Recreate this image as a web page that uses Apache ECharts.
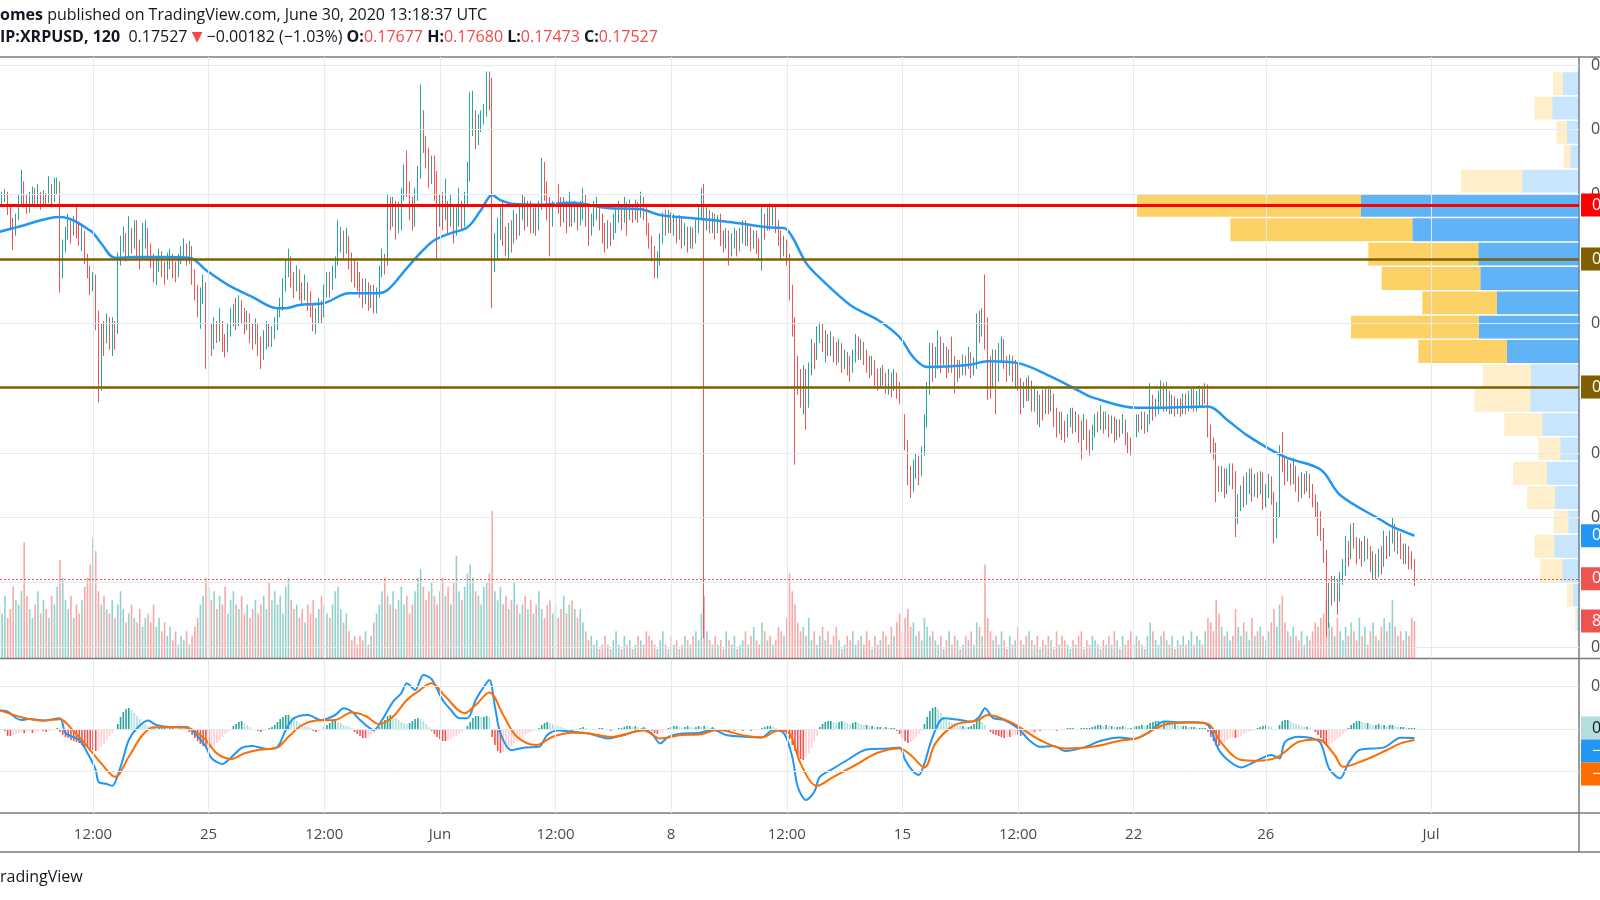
<!DOCTYPE html>
<html><head><meta charset="utf-8">
<script src="https://cdn.jsdelivr.net/npm/echarts@6/dist/echarts.min.js"></script>
<style>html,body{margin:0;padding:0;background:#fff;overflow:hidden}#c{width:1600px;height:900px}</style>
</head><body><div id="c"></div>
<script>
// ---------------- DATA ----------------
// 2-hour bars; x values are hours relative to May 21 12:00 UTC
const firstHour = -68;
const barHours = 2;
const firstOpen = 2040;           // prices in units of 0.0001
const closes = [
2044,2048,2050,2038,2030,2020,2032,2045,2058,2046,
2040,2048,2052,2044,2050,2042,2048,2045,2054,2046,
2055,2058,1998,2010,2020,2026,2022,2028,2024,2016,
2020,2002,1992,1980,1985,1955,1925,1945,1938,1950,
1940,1948,1945,1998,2010,2015,2005,2020,2012,2025,
2010,2002,2018,2020,2008,2000,1990,1996,2004,1994,
1986,1998,2002,1992,1988,1998,2006,2010,2000,2008,
1988,1975,1962,1972,1980,1925,1940,1935,1948,1942,
1950,1935,1932,1945,1955,1960,1952,1965,1958,1950,
1955,1945,1938,1948,1935,1928,1935,1945,1938,1942,
1950,1958,1965,1978,1990,2000,1985,1978,1988,1976,
1970,1980,1968,1962,1950,1956,1965,1958,1972,1985,
1978,1988,1996,2012,2020,2008,2016,2000,1995,1990,
1985,1978,1972,1980,1970,1975,1966,1972,1990,2000,
1995,2040,2030,2045,2025,2030,2048,2065,2055,2042,
2030,2048,2065,2105,2090,2080,2062,2072,2060,2035,
2045,2030,2040,2028,2035,2022,2032,2040,2028,2048,
2065,2102,2110,2095,2104,2110,2115,2130,2128,2010,
2012,2025,2030,2018,2010,2025,2018,2030,2022,2035,
2045,2030,2040,2028,2035,2025,2040,2070,2055,2040,
2030,2038,2050,2042,2035,2042,2030,2038,2032,2040,
2030,2038,2045,2035,2025,2030,2038,2040,2028,2022,
2015,2022,2018,2028,2035,2040,2030,2042,2036,2040,
2033,2040,2035,2045,2038,2025,2015,2005,1998,2000,
2015,2030,2025,2032,2026,2030,2022,2030,2015,2022,
2012,2020,2015,2025,2035,2045,2030,2035,2028,2032,
2025,2030,2018,2012,2020,2008,2015,2018,2010,2020,
2025,2016,2022,2014,2018,2012,2008,2030,2025,2035,
2030,2038,2028,2018,2010,2012,2002,1975,1950,1920,
1905,1895,1910,1892,1915,1930,1925,1940,1948,1935,
1940,1930,1938,1932,1925,1932,1920,1925,1918,1915,
1925,1935,1928,1935,1925,1920,1915,1918,1910,1905,
1912,1908,1902,1908,1900,1910,1900,1895,1878,1860,
1835,1822,1840,1842,1838,1850,1875,1898,1925,1918,
1925,1935,1920,1928,1918,1925,1920,1910,1918,1915,
1922,1918,1925,1915,1920,1950,1945,1955,1950,1918,
1905,1925,1910,1928,1935,1920,1915,1922,1912,1918,
1905,1892,1900,1898,1905,1890,1895,1880,1890,1885,
1895,1888,1895,1880,1872,1878,1870,1865,1875,1880,
1872,1878,1868,1865,1872,1860,1855,1868,1875,1872,
1880,1872,1878,1870,1875,1866,1872,1868,1874,1862,
1858,1855,1868,1875,1872,1878,1872,1876,1890,1880,
1885,1893,1898,1888,1895,1885,1890,1882,1888,1884,
1892,1886,1893,1896,1888,1894,1898,1893,1898,1868,
1858,1855,1832,1826,1835,1822,1832,1838,1830,1800,
1810,1820,1815,1825,1832,1822,1830,1825,1832,1815,
1822,1830,1818,1795,1805,1852,1842,1835,1840,1832,
1838,1828,1820,1830,1825,1832,1822,1815,1808,1795,
1790,1772,1722,1745,1740,1748,1738,1752,1760,1778,
1770,1790,1782,1772,1778,1770,1780,1775,1765,1768,
1760,1772,1765,1780,1776,1786,1792,1780,1784,1774,
1770,1776,1768,1767.7,1752.7];
const highs = [
2050,2052,2054,2052,2040,2032,2035,2050,2069,2060,
2050,2052,2056,2055,2058,2052,2053,2051,2064,2058,
2063,2063,2060,2015,2025,2035,2030,2033,2040,2028,
2026,2022,2004,1995,1990,1988,1960,1950,1952,1958,
1955,1955,1952,2005,2018,2025,2020,2033,2024,2030,
2030,2015,2028,2030,2024,2012,2004,2002,2008,2006,
1998,2005,2008,2004,1998,2004,2010,2016,2012,2014,
2010,1992,1980,1978,1988,1982,1948,1950,1955,1952,
1962,1952,1942,1950,1962,1965,1970,1972,1968,1962,
1960,1958,1950,1954,1950,1940,1945,1952,1950,1948,
1955,1962,1970,1985,2000,2008,2002,1990,1995,1992,
1982,1988,1982,1975,1966,1962,1970,1968,1980,1990,
1990,1995,2002,2030,2025,2022,2024,2018,2005,2000,
1998,1990,1985,1985,1982,1980,1980,1978,1995,2008,
2004,2050,2048,2048,2045,2044,2055,2073,2084,2060,
2048,2055,2072,2135,2115,2095,2086,2080,2080,2068,
2050,2052,2062,2045,2050,2040,2040,2055,2045,2052,
2075,2129,2130,2115,2112,2115,2120,2145,2145,2140,
2020,2032,2040,2045,2025,2028,2030,2038,2035,2042,
2050,2048,2045,2045,2040,2040,2045,2078,2075,2060,
2048,2045,2060,2058,2048,2048,2045,2052,2042,2045,
2042,2045,2055,2050,2040,2035,2045,2048,2042,2035,
2028,2030,2028,2035,2040,2045,2042,2048,2044,2046,
2042,2046,2044,2052,2048,2042,2028,2018,2010,2006,
2020,2036,2038,2038,2036,2035,2032,2034,2032,2028,
2025,2025,2024,2030,2040,2055,2058,2040,2038,2036,
2035,2034,2035,2022,2024,2022,2020,2024,2022,2024,
2030,2030,2026,2025,2022,2022,2016,2040,2035,2040,
2043,2042,2040,2030,2022,2018,2015,2004,1980,1955,
1925,1915,1918,1915,1920,1938,1935,1948,1951,1950,
1945,1942,1944,1940,1936,1938,1935,1930,1928,1925,
1930,1942,1940,1938,1936,1930,1925,1925,1922,1915,
1916,1918,1912,1915,1912,1915,1912,1905,1898,1880,
1860,1840,1845,1850,1848,1855,1880,1905,1935,1935,
1932,1945,1940,1935,1932,1930,1940,1925,1922,1922,
1926,1925,1932,1928,1924,1958,1960,1962,1988,1955,
1925,1930,1930,1935,1940,1938,1925,1926,1925,1922,
1920,1908,1905,1908,1910,1906,1902,1898,1895,1899,
1900,1902,1900,1896,1885,1882,1882,1875,1880,1885,
1885,1882,1880,1875,1880,1876,1868,1872,1880,1882,
1887,1882,1882,1880,1879,1878,1876,1876,1880,1876,
1866,1862,1872,1880,1880,1882,1882,1880,1904,1895,
1892,1898,1906,1904,1905,1898,1895,1894,1892,1892,
1896,1896,1898,1900,1900,1898,1902,1900,1904,1903,
1872,1862,1858,1840,1840,1838,1838,1842,1842,1836,
1818,1825,1832,1835,1838,1838,1834,1835,1836,1835,
1826,1834,1832,1820,1812,1856,1866,1848,1845,1842,
1846,1840,1832,1835,1834,1836,1834,1826,1818,1812,
1805,1792,1775,1750,1755,1755,1752,1758,1768,1786,
1782,1795,1796,1785,1784,1782,1786,1784,1778,1774,
1772,1776,1778,1790,1786,1790,1800,1795,1790,1788,
1780,1780,1778,1774,1768.0];
const lows = [
2035,2040,2044,2034,2022,2007,2018,2030,2042,2040,
2035,2036,2042,2040,2042,2038,2040,2040,2043,2040,
2044,2050,1974,1985,2005,2015,2012,2018,2016,2010,
2006,1996,1985,1972,1975,1945,1889,1898,1925,1935,
1930,1925,1930,1942,1995,2005,1998,2002,2004,2008,
2000,1992,2000,2008,2000,1993,1982,1980,1990,1986,
1980,1984,1992,1985,1982,1986,1996,2000,1995,1996,
1980,1968,1955,1946,1965,1915,1752,1925,1930,1935,
1936,1928,1924,1928,1940,1948,1945,1948,1950,1942,
1945,1935,1930,1934,1925,1915,1922,1930,1932,1932,
1938,1945,1955,1960,1975,1986,1978,1970,1975,1968,
1964,1968,1960,1955,1944,1942,1950,1950,1955,1970,
1970,1976,1985,1995,2005,2000,2004,1992,1982,1978,
1975,1970,1962,1965,1960,1962,1958,1958,1970,1986,
1988,1995,2022,2025,2015,2020,2022,2045,2048,2030,
2022,2025,2045,2062,2082,2070,2055,2058,2045,2000,
2025,2022,2030,2020,2025,2012,2018,2025,2022,2025,
2040,2060,2095,2085,2088,2098,2104,2110,2115,1962,
1990,2000,2015,2010,2002,2000,2005,2012,2015,2018,
2030,2022,2025,2020,2020,2018,2022,2038,2045,2030,
2002,2025,2032,2035,2025,2028,2020,2025,2025,2028,
2022,2026,2030,2025,2010,2018,2025,2030,2022,2012,
2005,2008,2010,2015,2020,2028,2022,2028,2018,2030,
2028,2030,2028,2032,2030,2018,2008,1998,1985,1985,
1995,2012,2018,2020,2020,2018,2012,2015,2008,2010,
2005,2008,2008,2012,2020,2030,1707,2022,2020,2020,
2015,2020,2010,2005,2008,1995,2002,2008,2002,2006,
2012,2010,2010,2006,2008,2004,2000,1991,2015,2022,
2022,2026,2020,2010,2000,2002,1995,1968,1940,1841,
1895,1885,1880,1868,1885,1910,1915,1922,1935,1928,
1920,1925,1925,1920,1918,1920,1912,1915,1910,1905,
1912,1920,1922,1922,1918,1912,1908,1910,1902,1898,
1900,1902,1896,1895,1893,1898,1892,1888,1870,1852,
1825,1815,1820,1830,1825,1832,1848,1870,1895,1905,
1908,1915,1912,1918,1908,1912,1912,1896,1905,1908,
1910,1910,1915,1908,1910,1915,1935,1940,1930,1891,
1892,1900,1880,1905,1920,1915,1905,1910,1905,1900,
1898,1880,1885,1890,1890,1882,1882,1872,1870,1875,
1880,1880,1882,1870,1862,1865,1860,1858,1862,1870,
1865,1866,1858,1845,1860,1852,1848,1852,1862,1866,
1868,1865,1868,1862,1865,1858,1860,1862,1865,1856,
1850,1848,1852,1862,1866,1868,1865,1866,1872,1875,
1878,1880,1886,1882,1882,1880,1880,1878,1880,1878,
1880,1880,1882,1884,1882,1882,1886,1886,1888,1862,
1850,1845,1812,1820,1820,1815,1818,1825,1822,1785,
1795,1805,1808,1810,1818,1812,1816,1815,1818,1806,
1808,1815,1810,1780,1784,1800,1835,1825,1828,1825,
1826,1820,1812,1815,1818,1820,1815,1808,1800,1786,
1782,1765,1708,1715,1732,1735,1725,1735,1748,1755,
1762,1768,1776,1764,1768,1762,1766,1768,1758,1752,
1752,1754,1756,1762,1768,1770,1780,1774,1772,1768,
1764,1764,1760,1760,1747.3];
// volume in millions XRP
const volumes = [
12,10,14,9,11,16,13,12,15,26, 14,11,9,12,15,10,13,11,9,14,
12,16,22,18,13,11,14,9,12,10, 13,16,18,21,27,24,15,12,14,11,
10,13,9,12,15,11,8,10,12,9, 8,11,7,9,10,8,12,7,9,6,
8,5,7,4,6,3,5,4,6,3, 5,7,9,12,14,18,16,13,15,11,
14,12,16,10,13,15,12,11,14,10, 12,9,11,13,10,12,14,11,17,13,
15,12,14,10,16,18,13,11,12,9, 11,8,12,10,13,9,11,14,12,10,
9,12,15,16,11,8,10,6,4,5, 3,5,4,6,3,5,8,10,12,15,
18,14,12,15,11,13,16,12,14,10, 12,15,18,20,16,13,15,17,14,12,
15,18,14,16,12,17,23,15,13,16, 19,21,18,15,14,12,16,17,19,33,
15,13,16,12,14,11,13,17,12,10, 12,14,11,13,10,12,15,11,9,12,
13,10,12,9,11,14,10,12,13,11, 9,11,8,6,4,5,3,4,2,3,
5,3,2,4,6,3,2,5,3,4, 2,3,5,4,3,6,5,4,3,2,
4,6,3,2,5,3,4,2,3,5, 4,3,5,6,4,10,14,6,4,3,
5,3,4,2,6,4,3,5,2,3, 4,6,3,5,7,4,3,8,6,4,
5,3,4,7,6,5,9,19,15,12, 8,6,7,5,9,4,6,3,5,7,
4,6,3,5,7,4,2,3,5,4, 6,3,4,5,3,6,4,2,5,3,
4,6,5,3,7,5,8,10,6,9, 11,7,8,5,6,4,9,7,5,6,
4,3,5,2,4,6,3,5,4,2, 3,5,4,6,3,8,7,5,21,9,
6,4,5,3,6,4,2,5,3,4, 7,4,3,5,6,4,3,5,2,4,
3,5,4,2,6,3,5,4,3,2, 4,3,5,6,2,4,3,5,4,3,
2,4,3,5,3,6,4,2,5,3, 4,6,3,5,4,3,2,5,8,6,
4,3,5,6,4,3,5,2,4,3, 5,3,4,6,3,5,4,3,6,9,
8,6,13,10,7,5,6,4,5,11, 7,5,8,6,4,9,5,6,7,5,
4,6,8,11,7,12,14,8,6,5, 7,5,4,6,3,5,4,6,8,7,
9,10,13,8,7,5,9,6,4,7, 5,8,6,4,9,5,7,3,6,8,
5,4,7,9,6,8,13,7,5,6, 4,6,5,9,8.3];
// MACD histogram per bar, units of 1e-5
const macdHist = [
-5,-5,-10, -35,-35,-30,-25,-20,
-15,-20,-15,-10,-20,-15,-10,-5,-10,-15,-10,-5,-5,5,
-15,-30,-40,-45,-55,-60,-65,-70,-80,-85,-90,-100,-105,-110,-105,-90,-75,-55,-35,-20,-5,
25,60,85,100,105,95,80,65,50,35,25,15,
10,10,5,5,5,5,3,5,5,3,3,3,0,-5,
-15,-30,-45,-60,-75,-85,-95,-100,-95,-85,-70,-55,-40,-25,-15,-5,
15,25,35,40,30,20,10,
0,-5,-10,-15,-10,-5,
5,10,20,35,50,60,70,70,60,50,40,30,20,15,10,5,
-10,-15,-10,
0,10,20,30,40,40,35,30,20,15,10,5,
-15,-25,-35,-45,-45,-40,-30,-20,-10,
10,25,45,65,70,65,55,45,35,30,25,30,
40,50,55,50,40,25,10,
-10,-25,-40,-50,-60,-60,-55,-50,-40,-35,-25,-15,-5,
15,35,55,65,65,60,60,65,60,
-40,-80,-110,-120,-115,-105,-95,-85,-70,-60,-50,-40,-30,-20,-15,-10,-5,
5,20,30,35,30,25,20,15,10,
5,0,-5,-10,-5,0,5,10,5,0,-5,-5,0,5,5,0,-5,-10,-5,0,5,5,
10,15,15,10,15,10,5,10,5,0,
-10,-20,-25,-20,-15,-5,
5,10,15,15,10,5,10,15,10,5,10,
15,10,15,10,5,10,5,0,-5,-5,
-5,-10,-5,-10,-5,-5,-10,-5,-5,-10,-5,-5,0,5,10,
15,15,10,5,
0,-5,
-10,-25,-50,-80,-110,-135,-150,-155,-140,-120,-95,-65,-35,
10,25,35,40,40,35,30,35,40,35,30,25,30,35,30,25,20,20,15,15,10,10,10,5,10,5,5,5,
-10,-25,-45,-60,-70,-65,-55,-40,-25,-10,
25,60,90,105,110,100,80,60,45,35,
30,25,20,15,15,10,10,15,25,40,45,35,20,
-5,-15,-25,-30,-35,-40,-45,-40,-40,-35,-30,-30,-35,-30,-25,-20,-15,-15,-10,-10,-5,-5,
-5,0,-5,-10,-5,-5,0,5,5,5,0,-5,5,5,5,5,10,
15,20,20,15,20,15,15,10,10,10,15,10,5,5,10,15,15,20,15,
20,30,35,40,40,35,40,35,30,25,25,20,15,15,15,10,10,10,5,5,5,5,
-15,-40,-60,-85,-85,-75,-65,-55,-45,-40,-45,-40,-35,-25,-20,-15,-10,-5,
5,10,15,20,15,10,-5,-5,
20,40,45,45,40,30,25,20,15,10,10,5,0,
-15,-30,-45,-65,-85,-80,-70,-60,-50,-40,-25,-15,
5,20,30,40,40,35,30,30,25,20,20,25,20,20,15,20,20,15,10,
10,10,5,5,5,5];
// moving average read at [bar index, price*1e4]
const maPoints = [[0,2021],[7,2025],[22,2032.5],[33,2022],[37,2012],[42,2001],[49,2001.5],[61,2001.5],[69,2001],[75,1991.5],[83,1980],[92,1970.5],[101,1962],[104,1962],[109,1964.5],[118,1966],[127,1973.5],[137,1973.5],[141,1976],[148,1993],[154,2007],[158,2014.5],[164,2020],[170,2024.5],[175,2038],[179,2049.5],[182,2045.5],[187,2042.5],[196,2042],[208,2043.5],[221,2039.5],[233,2038.5],[240,2034],[255,2031],[266,2028.5],[279,2024.5],[285,2024],[288,2017],[293,1997],[297,1987.5],[309,1964.5],[319,1953],[327,1939.5],[332,1924],[337,1916.5],[352,1918],[359,1921],[370,1919.5],[382,1909],[393,1897],[397,1893],[413,1885],[422,1885],[439,1886],[446,1875.5],[453,1864],[463,1851],[468,1846],[480,1837],[487,1817.5],[502,1798],[506,1793],[514,1786]];
// MACD line and signal line read at [bar index, value*1e5]
const macdPoints = [[0,92],[3,87],[6,55],[8,45],[11,50],[16,42],[22,54],[24,-20],[29,-55],[32,-120],[35,-205],[36,-264],[39,-275],[41,-284],[44,-189],[47,-55],[50,4],[54,42],[57,20],[62,10],[68,10],[71,-20],[75,-89],[77,-145],[81,-175],[84,-145],[88,-95],[92,-85],[97,-100],[101,-90],[104,-5],[107,54],[112,70],[117,45],[122,70],[125,104],[128,87],[131,45],[136,-5],[139,45],[143,137],[146,179],[148,229],[151,195],[154,270],[157,249],[161,145],[164,95],[167,54],[170,54],[173,145],[176,212],[178,245],[180,112],[182,-22],[186,-105],[191,-92],[196,-89],[199,-30],[203,-8],[208,-13],[214,-22],[221,-47],[227,-30],[234,-2],[237,-22],[240,-72],[243,-39],[248,-22],[254,-20],[259,-2],[264,-30],[271,-39],[277,-42],[281,-5],[285,-22],[288,-139],[290,-289],[293,-355],[296,-314],[298,-239],[303,-197],[308,-155],[315,-102],[323,-97],[327,-92],[329,-155],[332,-214],[334,-230],[336,-172],[339,-39],[343,54],[349,45],[353,37],[356,62],[358,104],[361,54],[365,45],[370,4],[374,-55],[378,-89],[383,-85],[387,-110],[394,-92],[400,-59],[407,-42],[412,-50],[417,-22],[423,37],[430,34],[434,34],[439,20],[443,-105],[447,-164],[451,-192],[456,-164],[462,-130],[465,-147],[467,-64],[472,-39],[477,-47],[480,-72],[483,-197],[487,-247],[490,-172],[494,-105],[503,-92],[509,-44],[514,-45]];
const signalPoints = [[0,95],[8,59],[16,42],[22,49],[26,4],[32,-89],[37,-172],[42,-239],[47,-139],[52,-30],[56,9],[65,9],[70,-2],[75,-55],[79,-122],[84,-150],[89,-122],[94,-105],[101,-92],[105,-39],[110,20],[115,42],[122,45],[128,82],[133,65],[138,25],[143,62],[148,145],[152,187],[157,229],[162,162],[169,79],[173,120],[178,182],[183,70],[188,-39],[195,-80],[201,-39],[208,-19],[214,-22],[222,-39],[234,-8],[240,-47],[248,-30],[254,-28],[261,-5],[271,-34],[277,-42],[283,-8],[287,-22],[291,-172],[297,-284],[303,-239],[311,-180],[319,-119],[327,-97],[331,-130],[336,-192],[340,-72],[347,20],[355,42],[359,70],[368,29],[378,-55],[387,-97],[397,-89],[407,-59],[413,-47],[423,20],[433,32],[439,25],[444,-72],[451,-155],[457,-159],[464,-142],[472,-64],[479,-52],[485,-130],[488,-189],[496,-155],[504,-105],[509,-72],[514,-55]];
// volume profile (visible range), rows top to bottom, millions
const profileUp   = [24,40,18,13,85,327,250,151,148,123,150,108,72,73,55,28,48,36,16,37,25,9,3,1];
const profileDown = [15,27,16,10,92,336,273,165,148,112,192,133,72,84,57,33,51,42,22,30,33,9,3,1];
const valueAreaRows = [5,6,7,8,9,10,11];
// axes
const timeTicks  = [0,84,168,252,336,420,504,588,672,756,852,972];
const timeLabels = ['12:00','25','12:00','Jun','12:00','8','12:00','15','12:00','22','26','Jul'];
const priceTicks = [0.170,0.175,0.180,0.185,0.190,0.195,0.200,0.205,0.210,0.215];
const macdTicks  = [212.5,0,-212.5];
const levelRed = 0.20418;
const levelOlive = [0.2000,0.1901];

// ---------------- BUILD ----------------
const FONT = "'Open Sans','Noto Sans',sans-serif";
const UP = '#26a69a', DOWN = '#ef5350';
const hourOf = i => firstHour + barHours * i;
const n = closes.length;
const opens = closes.map((c, i) => i === 0 ? firstOpen : closes[i - 1]);
const candleData = closes.map((c, i) => {
  const o = opens[i];
  return [hourOf(i), o / 1e4, c / 1e4, Math.min(lows[i], o, c) / 1e4, Math.max(highs[i], o, c) / 1e4];
});
const volData = volumes.map((v, i) => ({
  value: [hourOf(i), v],
  itemStyle: { color: closes[i] >= opens[i] ? 'rgba(38,166,154,0.5)' : 'rgba(239,83,80,0.5)' }
}));
const histData = macdHist.map((v, i) => {
  const p = i ? macdHist[i - 1] : v;
  let col;
  if (v >= 0) col = v >= p ? '#26a69a' : '#b2dfdb';
  else col = v <= p ? '#ef5350' : '#ffcdd2';
  return { value: [hourOf(i), v], itemStyle: { color: col } };
});
const maData = maPoints.map(([i, p]) => [hourOf(i), p / 1e4]);
const macdData = macdPoints.map(([i, v]) => [hourOf(i), v]);
const sigData = signalPoints.map(([i, v]) => [hourOf(i), v]);

const lastClose = closes[n - 1] / 1e4;
const lastMA = maPoints[maPoints.length - 1][1] / 1e4;
const lastVol = volumes[n - 1];

// MACD pane value labels pushed apart like the source (box = 23px = 115 units)
const boxUnits = 115;
const macdLabels = [
  { v: macdHist[n - 1], bg: '#b2dfdb', fg: '#131722', text: (macdHist[n - 1] / 1e5).toFixed(5) },
  { v: macdPoints[macdPoints.length - 1][1], bg: '#2196f3', fg: '#fff', text: '\u2212' + Math.abs(macdPoints[macdPoints.length - 1][1] / 1e5).toFixed(5) },
  { v: signalPoints[signalPoints.length - 1][1], bg: '#ff6d00', fg: '#fff', text: '\u2212' + Math.abs(signalPoints[signalPoints.length - 1][1] / 1e5).toFixed(5) }
];
let prevPos = Infinity;
macdLabels.forEach(l => { l.pos = Math.min(l.v, prevPos - boxUnits); prevPos = l.pos; });

function box(text, bg, fg) {
  return { show: true, position: 'end', distance: 2, formatter: text, backgroundColor: bg, color: fg || '#fff',
           padding: [4, 5, 4, 11], fontSize: 16, lineHeight: 15, fontFamily: FONT, opacity: 1 };
}
const hidden = { color: 'rgba(0,0,0,0)', width: 0 };

const xMin = -67.56, xMax = 1079.55;
const gridCommon = { left: 0, right: 21, outerBoundsMode: 'none', containLabel: false };
const axisFont = { fontSize: 16, color: '#4a4a4a', fontFamily: FONT };

const vpColor = (row, isUp) => {
  const va = valueAreaRows.indexOf(row) >= 0;
  return isUp ? (va ? 'rgba(33,150,243,0.72)' : 'rgba(33,150,243,0.25)')
              : (va ? 'rgba(251,192,45,0.72)' : 'rgba(251,192,45,0.25)');
};

const option = {
  animation: false,
  backgroundColor: '#ffffff',
  grid: [
    Object.assign({ top: 57, height: 601 }, gridCommon),
    Object.assign({ top: 659, height: 154 }, gridCommon),
    Object.assign({ top: 71.5, height: 584.4 }, gridCommon)
  ],
  xAxis: [
    { type: 'value', gridIndex: 0, min: xMin, max: xMax, show: true, axisLine: { show: false }, axisTick: { show: false }, axisLabel: { show: false }, splitLine: { show: false } },
    { type: 'value', gridIndex: 1, min: xMin, max: xMax, position: 'bottom',
      axisLine: { show: false },
      axisTick: { show: true, customValues: timeTicks, length: 5, lineStyle: { color: '#777', width: 1 } },
      axisLabel: Object.assign({ show: true, customValues: timeTicks, margin: 14,
        formatter: v => { const k = timeTicks.indexOf(v); return k >= 0 ? timeLabels[k] : ''; } }, axisFont, { fontSize: 15 }),
      splitLine: { show: false } },
    { type: 'value', gridIndex: 2, min: 0, max: 2368.5, inverse: true, show: false }
  ],
  yAxis: [
    { type: 'value', gridIndex: 0, min: 0.169148, max: 0.215619, position: 'right',
      axisLine: { show: false },
      axisTick: { show: true, customValues: priceTicks, length: 5, lineStyle: { color: '#777' } },
      axisLabel: Object.assign({ show: true, customValues: priceTicks, margin: 12, formatter: v => v.toFixed(4) }, axisFont),
      splitLine: { show: false } },
    { type: 'value', gridIndex: 0, min: 0, max: 135, show: false },
    { type: 'value', gridIndex: 1, min: -420, max: 350, position: 'right',
      axisLine: { show: false },
      axisTick: { show: true, customValues: macdTicks, length: 5, lineStyle: { color: '#777' } },
      axisLabel: Object.assign({ show: true, customValues: macdTicks, margin: 12, formatter: v => (v / 1e5).toFixed(4) }, axisFont),
      splitLine: { show: false } },
    { type: 'category', gridIndex: 2, inverse: true, show: false, data: profileUp.map((_, i) => 'row' + i) }
  ],
  series: [
    // grid lines
    { type: 'scatter', xAxisIndex: 0, yAxisIndex: 0, data: [[0, 0.2]], symbolSize: 0, silent: true, z: 0,
      markLine: { silent: true, symbol: 'none', precision: 6, label: { show: false }, lineStyle: { color: '#e3eaf2', width: 1, type: 'solid' },
        data: timeTicks.map(h => ({ xAxis: h })).concat(priceTicks.map(p => ({ yAxis: p }))) } },
    { type: 'scatter', xAxisIndex: 1, yAxisIndex: 2, data: [[0, 0]], symbolSize: 0, silent: true, z: 0,
      markLine: { silent: true, symbol: 'none', precision: 6, label: { show: false }, lineStyle: { color: '#e3eaf2', width: 1, type: 'solid' },
        data: timeTicks.map(h => ({ xAxis: h })).concat(macdTicks.map(v => ({ yAxis: v }))) } },
    // volume profile
    { type: 'bar', xAxisIndex: 2, yAxisIndex: 3, stack: 'vp', barCategoryGap: '6%', z: 1, silent: true,
      data: profileUp.map((v, r) => ({ value: v, itemStyle: { color: vpColor(r, true) } })) },
    { type: 'bar', xAxisIndex: 2, yAxisIndex: 3, stack: 'vp', barCategoryGap: '6%', z: 1, silent: true,
      data: profileDown.map((v, r) => ({ value: v, itemStyle: { color: vpColor(r, false) } })) },
    // volume
    { type: 'bar', xAxisIndex: 0, yAxisIndex: 1, data: volData, barWidth: 1.6, z: 2, silent: true,
      markLine: { silent: true, symbol: 'none', precision: 6, z: 6,
        data: [{ yAxis: lastVol, lineStyle: hidden, label: box(lastVol.toFixed(3) + 'M', '#ef5350') }] } },
    // candles
    { type: 'candlestick', xAxisIndex: 0, yAxisIndex: 0, data: candleData, encode: { x: 0, y: [1, 2, 3, 4] },
      barWidth: 1.2, z: 3, silent: true, progressive: 0,
      itemStyle: { color: UP, color0: DOWN, borderColor: UP, borderColor0: DOWN, borderWidth: 1 } },
    // moving average + level lines
    { type: 'line', xAxisIndex: 0, yAxisIndex: 0, data: maData, smooth: 0.35, showSymbol: false, symbol: 'none', z: 4, silent: true,
      lineStyle: { color: '#2196f3', width: 2.5 },
      markLine: { silent: true, symbol: 'none', precision: 6, z: 5,
        data: [
          { yAxis: levelRed, lineStyle: { color: '#ff0000', width: 3, type: 'solid' }, label: box(levelRed.toFixed(4), '#ff0000') },
          { yAxis: levelOlive[0], lineStyle: { color: '#7f6000', width: 2.5, type: 'solid' }, label: box(levelOlive[0].toFixed(4), '#7f6000') },
          { yAxis: levelOlive[1], lineStyle: { color: '#7f6000', width: 2.5, type: 'solid' }, label: box(levelOlive[1].toFixed(4), '#7f6000') },
          { yAxis: lastMA, lineStyle: hidden, label: box(lastMA.toFixed(5), '#2196f3') },
          { yAxis: lastClose, lineStyle: { color: '#ef5350', width: 1, type: [2, 2] }, label: box(lastClose.toFixed(5), '#ef5350') }
        ] } },
    // MACD
    { type: 'bar', xAxisIndex: 1, yAxisIndex: 2, data: histData, barWidth: 1.6, z: 2, silent: true },
    { type: 'line', xAxisIndex: 1, yAxisIndex: 2, data: macdData, smooth: 0.3, showSymbol: false, symbol: 'none', z: 4, silent: true,
      lineStyle: { color: '#2196f3', width: 2 },
      markLine: { silent: true, symbol: 'none', precision: 6, z: 6,
        data: macdLabels.map(l => ({ yAxis: l.pos, lineStyle: hidden, label: box(l.text, l.bg, l.fg) })) } },
    { type: 'line', xAxisIndex: 1, yAxisIndex: 2, data: sigData, smooth: 0.35, showSymbol: false, symbol: 'none', z: 4, silent: true,
      lineStyle: { color: '#ff6d00', width: 2 } }
  ],
  graphic: [
    { type: 'line', silent: true, shape: { x1: 0, y1: 57, x2: 1600, y2: 57 }, style: { stroke: '#7b7b7b', lineWidth: 1.5 } },
    { type: 'line', silent: true, shape: { x1: 0, y1: 658.5, x2: 1600, y2: 658.5 }, style: { stroke: '#7b7b7b', lineWidth: 1.5 } },
    { type: 'line', silent: true, shape: { x1: 0, y1: 813, x2: 1600, y2: 813 }, style: { stroke: '#7b7b7b', lineWidth: 1.5 } },
    { type: 'line', silent: true, shape: { x1: 0, y1: 852, x2: 1600, y2: 852 }, style: { stroke: '#7b7b7b', lineWidth: 1.5 } },
    { type: 'line', silent: true, shape: { x1: 1579, y1: 57, x2: 1579, y2: 852 }, style: { stroke: '#7b7b7b', lineWidth: 1.5 } },
    { type: 'text', silent: true, left: 0, top: 7, z: 10,
      style: { text: '{b|omes} published on TradingView.com, June 30, 2020 13:18:37 UTC', fontSize: 16, fontFamily: FONT, fill: '#131722',
        rich: { b: { fontWeight: 'bold', fontSize: 16, fontFamily: FONT, fill: '#131722' } } } },
    { type: 'text', silent: true, left: 0, top: 29, z: 10,
      style: { text: '{b|IP:XRPUSD, 120}  0.17527 {r|\u25BC} \u22120.00182 (\u22121.03%) {b|O:}{v|0.17677} {b|H:}{v|0.17680} {b|L:}{v|0.17473} {b|C:}{v|0.17527}',
        fontSize: 16, fontFamily: FONT, fill: '#131722',
        rich: { b: { fontWeight: 'bold', fontSize: 16, fontFamily: FONT, fill: '#131722' },
                v: { fontSize: 16, fontFamily: FONT, fill: '#f04a4a' },
                r: { fontSize: 14, fontFamily: 'DejaVu Sans', fill: '#f04a4a' } } } },
    { type: 'text', silent: true, left: 0, top: 869, z: 10,
      style: { text: 'radingView', fontSize: 16, fontFamily: FONT, fill: '#131722' } }
  ]
};
const chart = echarts.init(document.getElementById('c'), null, { renderer: 'canvas', width: 1600, height: 900 });
chart.setOption(option);
</script>
</body></html>
